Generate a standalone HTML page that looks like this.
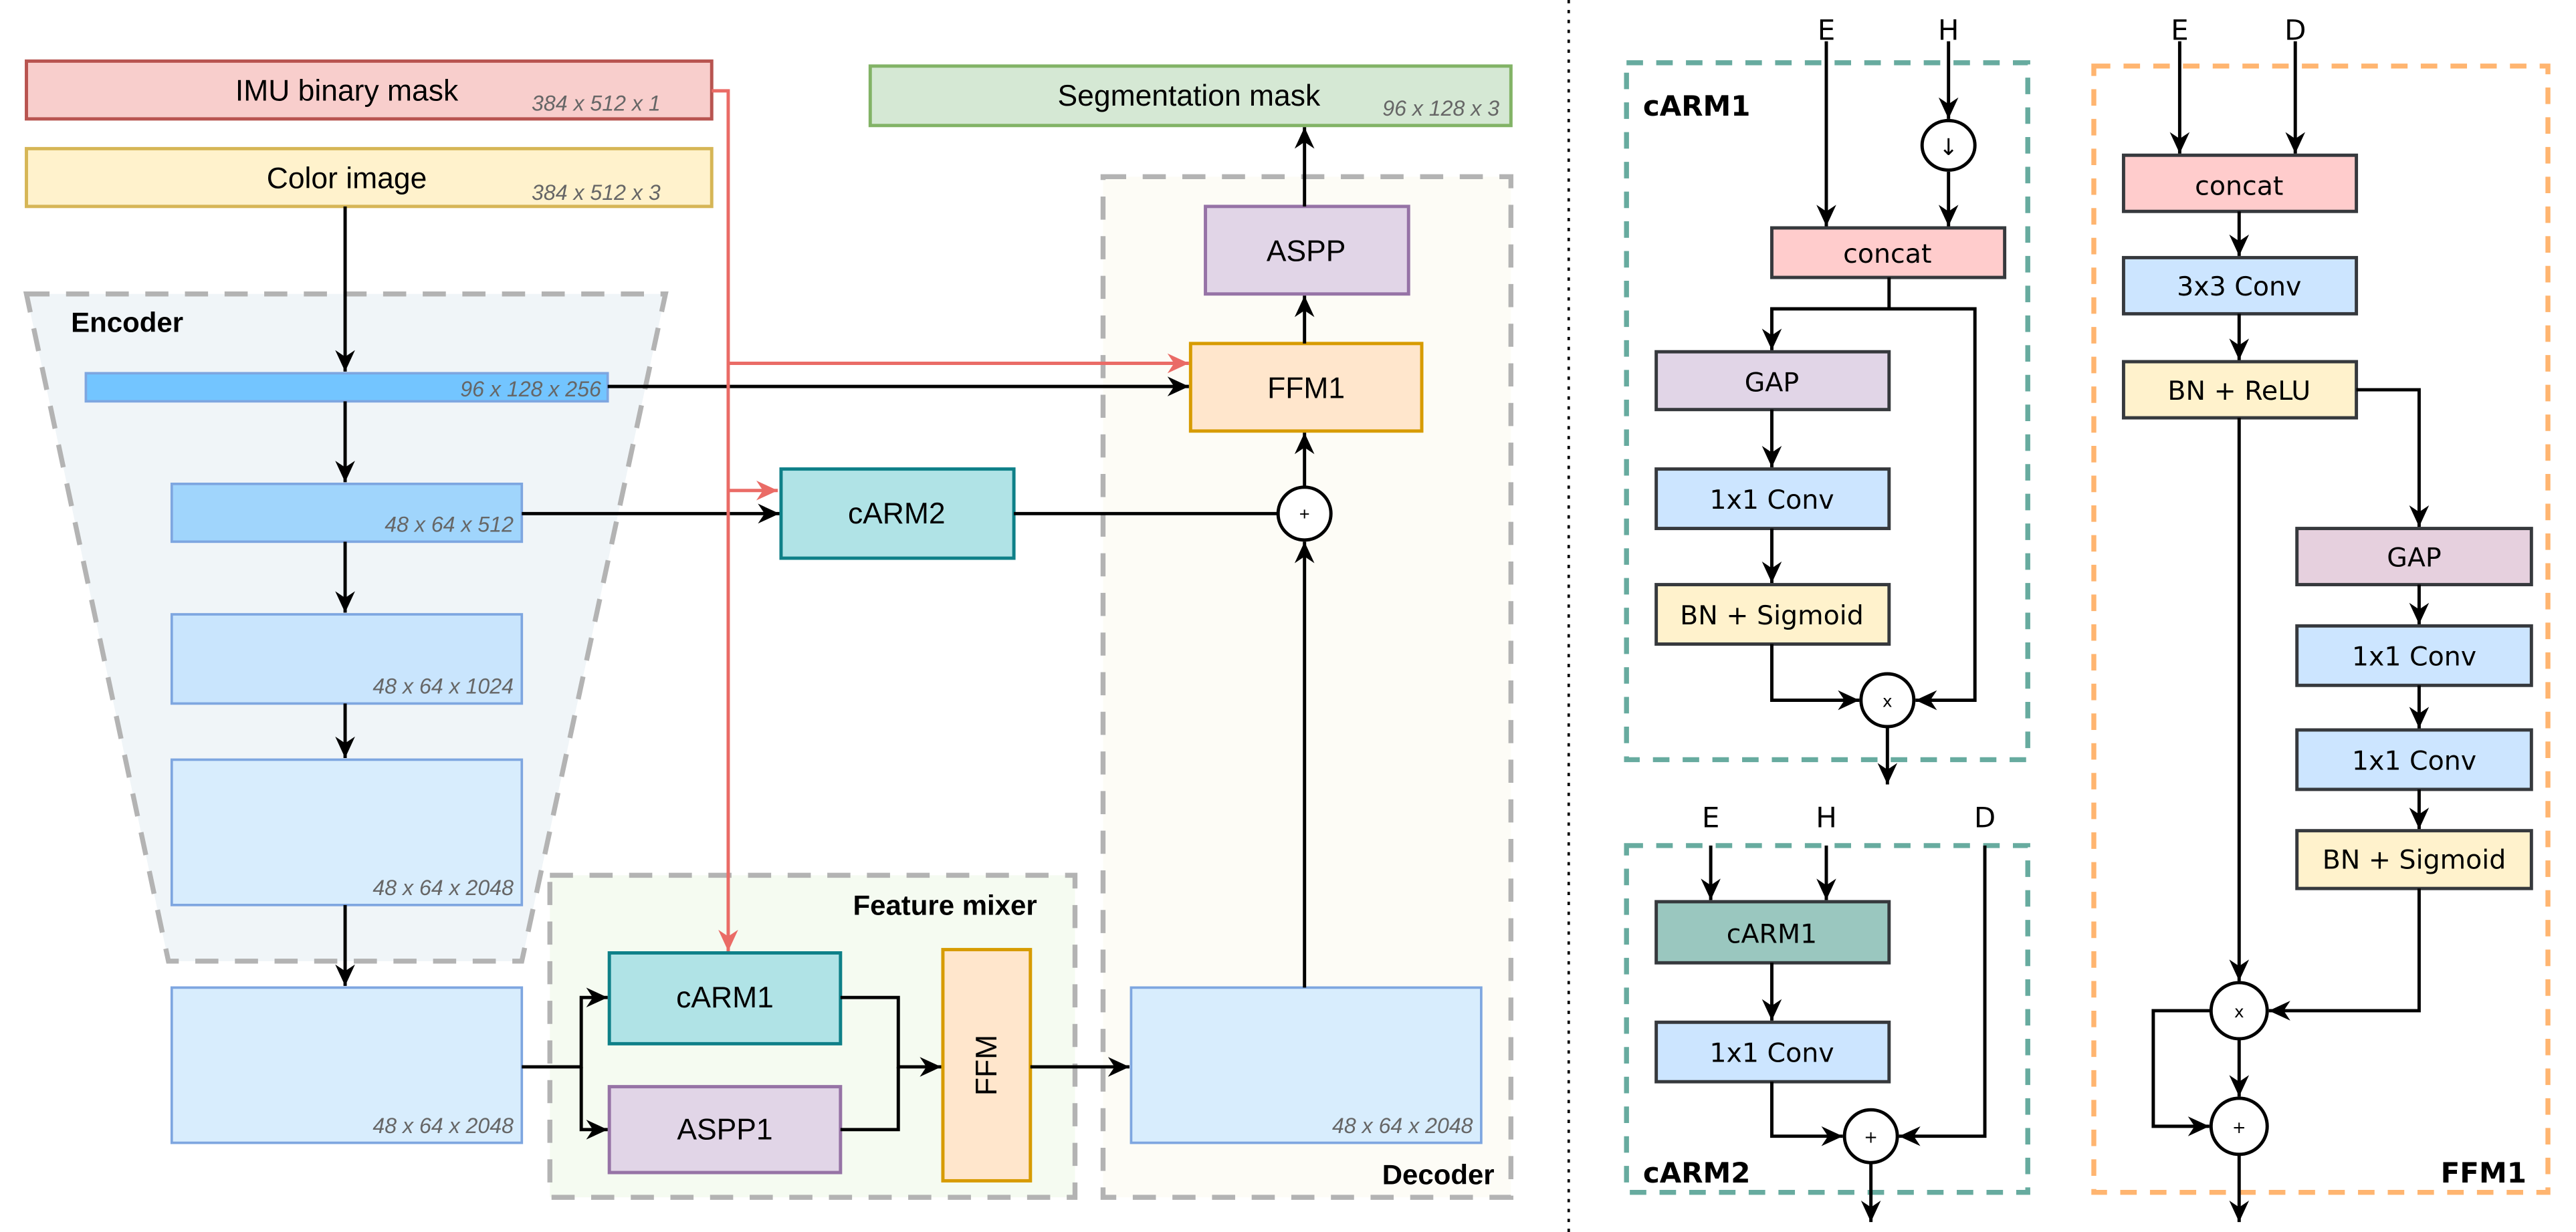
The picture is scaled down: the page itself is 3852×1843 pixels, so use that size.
<!DOCTYPE html>
<html><head><meta charset="utf-8"><style>html,body{margin:0;padding:0;background:#fff}svg{display:block}</style></head>
<body>
<svg xmlns="http://www.w3.org/2000/svg" width="3852" height="1843" viewBox="0 0 1560 746" preserveAspectRatio="none">
<defs>
<marker id="a" markerUnits="userSpaceOnUse" markerWidth="14" markerHeight="14" viewBox="0 0 14 14" refX="13" refY="7" orient="auto"><path d="M0,1 L13,7 L0,13 L4,7 Z" fill="#000"/></marker>
<marker id="r" markerUnits="userSpaceOnUse" markerWidth="14" markerHeight="14" viewBox="0 0 14 14" refX="13" refY="7" orient="auto"><path d="M0,1 L13,7 L0,13 L4,7 Z" fill="#ea6b66"/></marker>
</defs>
<g font-family="Liberation Sans, sans-serif">
<path d="M16,178 L403,178 L316,582 L102,582 Z" fill="#f0f5f8" stroke="#b3b3b3" stroke-width="3" stroke-dasharray="14,10"/>
<text x="43" y="201" font-size="17" font-weight="bold">Encoder</text>
<rect x="333" y="530" width="318" height="195" fill="#f5fbf1" stroke="#b3b3b3" stroke-width="3" stroke-dasharray="14,10"/>
<text x="628" y="554" font-size="17" font-weight="bold" text-anchor="end">Feature mixer</text>
<rect x="668" y="107" width="247" height="618" fill="#fdfcf6" stroke="#b3b3b3" stroke-width="3" stroke-dasharray="14,10"/>
<text x="905" y="717" font-size="17" font-weight="bold" text-anchor="end">Decoder</text>

<rect x="16" y="37" width="415" height="35" fill="#f8cecc" stroke="#b85450" stroke-width="2"/>
<text x="210" y="61" font-size="18" text-anchor="middle">IMU binary mask</text>
<text x="400" y="67" font-size="13" font-style="italic" fill="#666" text-anchor="end">384 x 512 x 1</text>
<rect x="16" y="90" width="415" height="35" fill="#fff2cc" stroke="#d6b656" stroke-width="2"/>
<text x="210" y="114" font-size="18" text-anchor="middle">Color image</text>
<text x="400" y="121" font-size="13" font-style="italic" fill="#666" text-anchor="end">384 x 512 x 3</text>
<rect x="527" y="40" width="388" height="36" fill="#d5e8d4" stroke="#82b366" stroke-width="2"/>
<text x="720" y="64" font-size="18" text-anchor="middle">Segmentation mask</text>
<text x="908" y="70" font-size="13" font-style="italic" fill="#666" text-anchor="end">96 x 128 x 3</text>

<rect x="52" y="226" width="316" height="17" fill="#73c5ff" stroke="#7ea6e0" stroke-width="1.5"/>
<text x="364" y="240" font-size="13" font-style="italic" fill="#666" text-anchor="end">96 x 128 x  256</text>
<rect x="104" y="293" width="212" height="35" fill="#a0d5fc" stroke="#7ea6e0" stroke-width="1.5"/>
<text x="311" y="322" font-size="13" font-style="italic" fill="#666" text-anchor="end">48 x 64 x  512</text>
<rect x="104" y="372" width="212" height="54" fill="#c9e5fd" stroke="#7ea6e0" stroke-width="1.5"/>
<text x="311" y="420" font-size="13" font-style="italic" fill="#666" text-anchor="end">48 x 64 x 1024</text>
<rect x="104" y="460" width="212" height="88" fill="#d8edfd" stroke="#7ea6e0" stroke-width="1.5"/>
<text x="311" y="542" font-size="13" font-style="italic" fill="#666" text-anchor="end">48 x 64 x 2048</text>
<rect x="104" y="598" width="212" height="94" fill="#d8edfd" stroke="#7ea6e0" stroke-width="1.5"/>
<text x="311" y="686" font-size="13" font-style="italic" fill="#666" text-anchor="end">48 x 64 x 2048</text>
<rect x="685" y="598" width="212" height="94" fill="#d8edfd" stroke="#7ea6e0" stroke-width="1.5"/>
<text x="892" y="686" font-size="13" font-style="italic" fill="#666" text-anchor="end">48 x 64 x 2048</text>

<rect x="721" y="208" width="140" height="53" fill="#ffe6cc" stroke="#d79b00" stroke-width="2"/>
<text x="791" y="241" font-size="18" text-anchor="middle">FFM1</text>
<rect x="730" y="125" width="123" height="53" fill="#e1d5e7" stroke="#9673a6" stroke-width="2"/>
<text x="791" y="158" font-size="18" text-anchor="middle">ASPP</text>
<rect x="473" y="284" width="141" height="54" fill="#b0e3e6" stroke="#0e8088" stroke-width="2"/>
<text x="543" y="317" font-size="18" text-anchor="middle">cARM2</text>
<rect x="369" y="577" width="140" height="55" fill="#b0e3e6" stroke="#0e8088" stroke-width="2"/>
<text x="439" y="610" font-size="18" text-anchor="middle">cARM1</text>
<rect x="369" y="658" width="140" height="52" fill="#e1d5e7" stroke="#9673a6" stroke-width="2"/>
<text x="439" y="690" font-size="18" text-anchor="middle">ASPP1</text>
<rect x="571" y="575" width="53" height="140" fill="#ffe6cc" stroke="#d79b00" stroke-width="2"/>
<text x="597.5" y="651" font-size="18" text-anchor="middle" transform="rotate(-90 597.5 645)">FFM</text>
<circle cx="790" cy="311" r="16" fill="#fff" stroke="#000" stroke-width="2"/>
<text x="790" y="315" font-size="11" text-anchor="middle">+</text>

<g stroke="#000" stroke-width="2" fill="none">
<path d="M209,125 V225" marker-end="url(#a)"/>
<path d="M209,243 V292" marker-end="url(#a)"/>
<path d="M209,328 V371" marker-end="url(#a)"/>
<path d="M209,426 V459" marker-end="url(#a)"/>
<path d="M209,548 V597" marker-end="url(#a)"/>
<path d="M368,234 H720" marker-end="url(#a)"/>
<path d="M316,311 H472" marker-end="url(#a)"/>
<path d="M614,311 H774"/>
<path d="M790,295 V262" marker-end="url(#a)"/>
<path d="M790,208 V179" marker-end="url(#a)"/>
<path d="M790,125 V77" marker-end="url(#a)"/>
<path d="M790,598 V328" marker-end="url(#a)"/>
<path d="M316,646 H352 V604 H368" marker-end="url(#a)"/>
<path d="M352,646 V684 H368" marker-end="url(#a)"/>
<path d="M509,604 H544 V646 H570" marker-end="url(#a)"/>
<path d="M509,684 H544 V646"/>
<path d="M624,646 H684" marker-end="url(#a)"/>
</g>
<g stroke="#ea6b66" stroke-width="2" fill="none">
<path d="M431,55 H441 V576" marker-end="url(#r)"/>
<path d="M441,220 H720" marker-end="url(#r)"/>
<path d="M441,297 H471" marker-end="url(#r)"/>
</g>
</g>

<line x1="950" y1="0" x2="950" y2="746" stroke="#000" stroke-width="1.5" stroke-dasharray="2,4"/>

<g font-family="DejaVu Sans, sans-serif" font-size="16">
<rect x="985" y="38" width="243" height="422" fill="none" stroke="#67ab9f" stroke-width="3" stroke-dasharray="10,8"/>
<text x="995" y="70" font-weight="bold" font-size="17">cARM1</text>
<rect x="985" y="512" width="243" height="210" fill="none" stroke="#67ab9f" stroke-width="3" stroke-dasharray="10,8"/>
<text x="995" y="716" font-weight="bold" font-size="17">cARM2</text>
<rect x="1268" y="40" width="275" height="682" fill="none" stroke="#ffb570" stroke-width="3" stroke-dasharray="10,8"/>
<text x="1530" y="716" font-weight="bold" font-size="17" text-anchor="end">FFM1</text>

<g font-size="17">
<text x="1106" y="24" text-anchor="middle">E</text><text x="1180" y="24" text-anchor="middle">H</text>
<text x="1036" y="501" text-anchor="middle">E</text><text x="1106" y="501" text-anchor="middle">H</text><text x="1202" y="501" text-anchor="middle">D</text>
<text x="1320" y="24" text-anchor="middle">E</text><text x="1390" y="24" text-anchor="middle">D</text>
</g>

<g stroke="#36393d" stroke-width="2">
<rect x="1073" y="138" width="141" height="30" fill="#ffcccc"/>
<rect x="1003" y="213" width="141" height="35" fill="#e1d5e7"/>
<rect x="1003" y="284" width="141" height="36" fill="#cce5ff"/>
<rect x="1003" y="354" width="141" height="36" fill="#fff2cc"/>
<rect x="1003" y="546" width="141" height="37" fill="#9ac7bf"/>
<rect x="1003" y="619" width="141" height="36" fill="#cce5ff"/>
<rect x="1286" y="94" width="141" height="34" fill="#ffcccc"/>
<rect x="1286" y="156" width="141" height="34" fill="#cce5ff"/>
<rect x="1286" y="219" width="141" height="34" fill="#fff2cc"/>
<rect x="1391" y="320" width="142" height="34" fill="#e6d0de"/>
<rect x="1391" y="379" width="142" height="36" fill="#cce5ff"/>
<rect x="1391" y="442" width="142" height="36" fill="#cce5ff"/>
<rect x="1391" y="503" width="142" height="35" fill="#fff2cc"/>
</g>
<g text-anchor="middle">
<text x="1143" y="159">concat</text>
<text x="1073" y="237">GAP</text>
<text x="1073" y="308">1x1 Conv</text>
<text x="1073" y="378">BN + Sigmoid</text>
<text x="1073" y="571">cARM1</text>
<text x="1073" y="643">1x1 Conv</text>
<text x="1356" y="118">concat</text>
<text x="1356" y="179">3x3 Conv</text>
<text x="1356" y="242">BN + ReLU</text>
<text x="1462" y="343">GAP</text>
<text x="1462" y="403">1x1 Conv</text>
<text x="1462" y="466">1x1 Conv</text>
<text x="1462" y="526">BN + Sigmoid</text>
</g>
<g stroke="#000" stroke-width="2" fill="#fff">
<ellipse cx="1180" cy="88" rx="16" ry="15"/>
<circle cx="1143" cy="424" r="16"/>
<circle cx="1133" cy="688" r="16"/>
<circle cx="1356" cy="612" r="17"/>
<circle cx="1356" cy="682" r="17"/>
</g>
<g font-size="10" text-anchor="middle">
<text x="1143" y="428">x</text><text x="1133" y="692">+</text><text x="1356" y="616">x</text><text x="1356" y="686">+</text>
</g>
<text x="1180" y="94" font-size="14" text-anchor="middle">↓</text>
<g stroke="#000" stroke-width="2" fill="none">
<path d="M1106,25 V137" marker-end="url(#a)"/>
<path d="M1180,25 V72" marker-end="url(#a)"/>
<path d="M1180,104 V137" marker-end="url(#a)"/>
<path d="M1144,168 V187 H1073 V212" marker-end="url(#a)"/>
<path d="M1144,187 H1196 V424 H1160" marker-end="url(#a)"/>
<path d="M1073,248 V283" marker-end="url(#a)"/>
<path d="M1073,320 V353" marker-end="url(#a)"/>
<path d="M1073,390 V424 H1126" marker-end="url(#a)"/>
<path d="M1143,440 V475" marker-end="url(#a)"/>
<path d="M1036,512 V545" marker-end="url(#a)"/>
<path d="M1106,512 V545" marker-end="url(#a)"/>
<path d="M1073,583 V618" marker-end="url(#a)"/>
<path d="M1073,655 V688 H1116" marker-end="url(#a)"/>
<path d="M1202,512 V688 H1150" marker-end="url(#a)"/>
<path d="M1133,704 V740" marker-end="url(#a)"/>
<path d="M1320,25 V93" marker-end="url(#a)"/>
<path d="M1390,25 V93" marker-end="url(#a)"/>
<path d="M1356,128 V155" marker-end="url(#a)"/>
<path d="M1356,190 V218" marker-end="url(#a)"/>
<path d="M1427,236 H1465 V319" marker-end="url(#a)"/>
<path d="M1465,354 V378" marker-end="url(#a)"/>
<path d="M1465,415 V441" marker-end="url(#a)"/>
<path d="M1465,478 V502" marker-end="url(#a)"/>
<path d="M1356,253 V594" marker-end="url(#a)"/>
<path d="M1465,538 V612 H1374" marker-end="url(#a)"/>
<path d="M1356,629 V664" marker-end="url(#a)"/>
<path d="M1339,612 H1304 V682 H1338" marker-end="url(#a)"/>
<path d="M1356,699 V740" marker-end="url(#a)"/>
</g>
</g>
</svg>
</body></html>
